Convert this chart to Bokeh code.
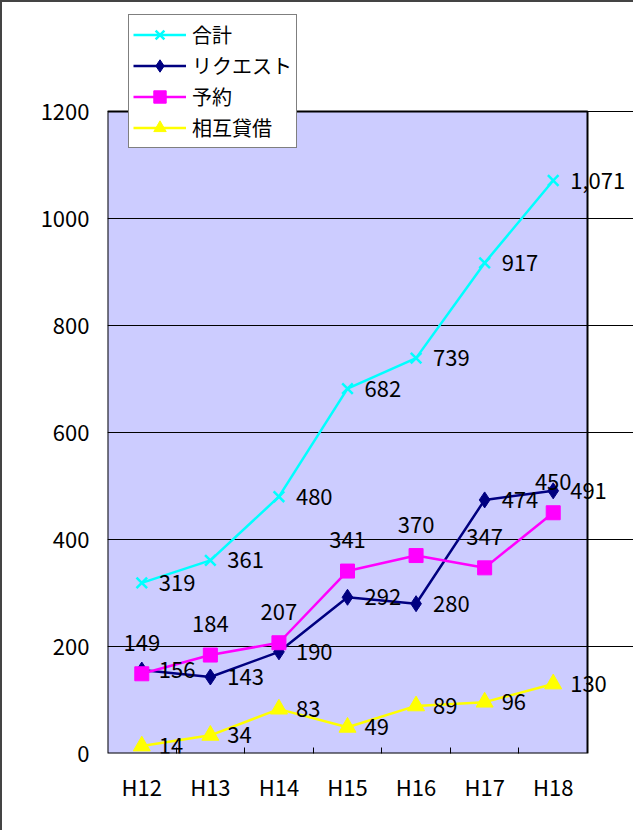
from bokeh.plotting import figure
from bokeh.models import ColumnDataSource, LabelSet, FixedTicker, Legend, LegendItem, BoxAnnotation
from bokeh.core.properties import value
from bokeh.embed import file_html
from bokeh.resources import INLINE

categories = ["H12", "H13", "H14", "H15", "H16", "H17", "H18"]
total = [319, 361, 480, 682, 739, 917, 1071]
request = [156, 143, 190, 292, 280, 474, 491]
reserve = [149, 184, 207, 341, 370, 347, 450]
ill = [14, 34, 83, 49, 89, 96, 130]
y_ticks = [0, 200, 400, 600, 800, 1000, 1200]
y_max = 1200

FONT = "Noto Sans CJK JP"
FS = "22px"

# layout (pixels)
W, H = 633, 830
area_left, area_top, area_w, area_h = 105, 109, 480, 642
frame_top = 2
n = len(categories)
frame_w = W - area_left
frame_h = area_top + area_h - frame_top
x_end = n * frame_w / area_w
y_end = y_max * frame_h / area_h

xs = [i + 0.5 for i in range(n)]

p = figure(width=W, height=H, output_backend="svg", toolbar_location=None,
           x_range=(0, x_end), y_range=(0, y_end),
           min_border_left=area_left, min_border_top=frame_top, min_border_right=0,
           min_border_bottom=H - area_top - area_h)
p.background_fill_color = "white"
p.border_fill_color = "white"
p.outline_line_color = None
p.styles = {"border-left": "2px solid #444", "border-top": "2px solid #444"}

# plot area background
p.quad(left=[0], right=[n], bottom=[0], top=[y_max], fill_color="#CCCCFF",
       line_color=None, level="image")

p.xgrid.visible = False
p.ygrid.grid_line_color = "black"
p.ygrid.grid_line_width = 1
p.ygrid.bounds = (0, n)
p.ygrid.ticker = FixedTicker(ticks=y_ticks)
p.yaxis.ticker = FixedTicker(ticks=y_ticks)
p.yaxis.major_tick_out = 0
p.yaxis.major_tick_in = 0
p.yaxis.minor_tick_line_color = None
p.yaxis.axis_line_color = None
p.yaxis.major_label_standoff = 18
p.yaxis.major_label_text_font = FONT
p.yaxis.major_label_text_font_size = FS
p.yaxis.major_label_text_color = "black"

p.xaxis.ticker = FixedTicker(ticks=xs, minor_ticks=list(range(1, n)))
p.xaxis.major_label_overrides = {x: c for x, c in zip(xs, categories)}
p.xaxis.major_tick_line_color = None
p.xaxis.major_tick_out = 0
p.xaxis.major_tick_in = 0
p.xaxis.minor_tick_in = 6
p.xaxis.minor_tick_out = 0
p.xaxis.minor_tick_line_color = "black"
p.xaxis.axis_line_color = None
p.xaxis.major_label_standoff = 16
p.xaxis.major_label_text_font = FONT
p.xaxis.major_label_text_font_size = FS
p.xaxis.major_label_text_color = "black"

series = [
    ("合計", total, "#00FFFF", "x", 15),
    ("リクエスト", request, "#000080", "diamond", 16),
    ("予約", reserve, "#FF00FF", "square", 14),
    ("相互貸借", ill, "#FFFF00", "triangle", 17),
]

items = []
for name, vals, color, marker, size in series:
    src = ColumnDataSource(dict(x=xs, y=vals, t=[f"{v:,}" for v in vals]))
    l = p.line("x", "y", source=src, line_color=color, line_width=2.5)
    if marker == "x":
        m = p.scatter("x", "y", source=src, marker="x", size=size, line_color=color, line_width=2.5)
    else:
        m = p.scatter("x", "y", source=src, marker=marker, size=size, fill_color=color, line_color=color)
    items.append(LegendItem(label=name, renderers=[l, m]))
    if name == "予約":
        ls = LabelSet(x="x", y="y", text="t", source=src, x_offset=0, y_offset=31,
                      text_align="center", text_baseline="middle",
                      text_font=value(FONT), text_font_size=value(FS), text_color="black")
    else:
        ls = LabelSet(x="x", y="y", text="t", source=src, x_offset=17, y_offset=0,
                      text_align="left", text_baseline="middle",
                      text_font=value(FONT), text_font_size=value(FS), text_color="black")
    p.add_layout(ls)

# plot area border
p.add_layout(BoxAnnotation(left=0, right=n, bottom=0, top=y_max, fill_color=None,
                           fill_alpha=0, line_color="black", line_alpha=1.0, line_width=2))

legend = Legend(items=items, location=(21, 605), orientation="vertical",
                label_text_font=FONT, label_text_font_size="20px", label_text_color="black",
                glyph_width=53, glyph_height=31, label_standoff=6, spacing=0,
                padding=4, margin=0, border_line_color="black", border_line_width=1.5,
                background_fill_color="white", background_fill_alpha=1.0,
                label_height=20)
p.add_layout(legend, "center")

open("out.html", "w").write(file_html(p, INLINE))
